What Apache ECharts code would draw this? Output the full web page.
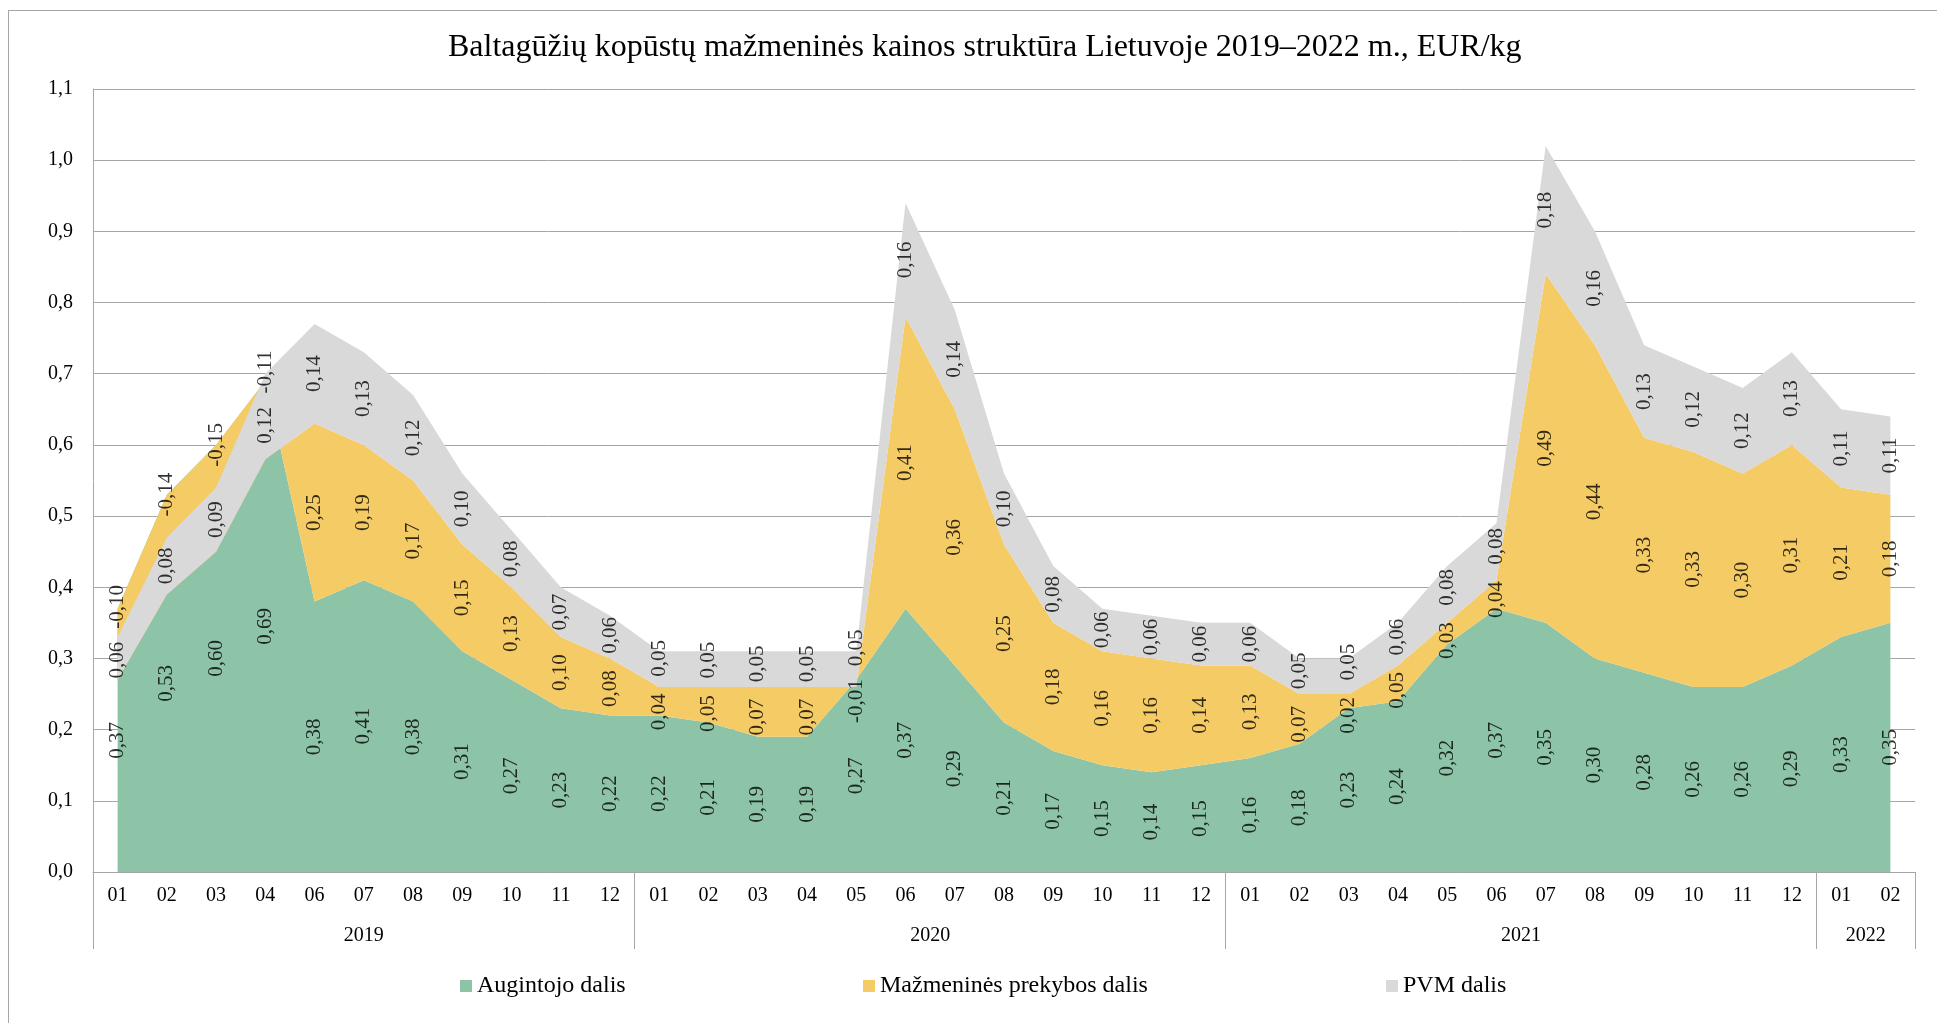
<!DOCTYPE html>
<html>
<head>
<meta charset="utf-8">
<title>Baltagūžių kopūstų mažmeninės kainos struktūra</title>
<script src="https://cdn.jsdelivr.net/npm/echarts@6/dist/echarts.min.js"></script>
<style>
    html, body { margin: 0; padding: 0; background: #fff; overflow: hidden; }
    #frame { position: absolute; left: 8px; top: 10px; width: 1940px; height: 1020px; border: 1px solid #a6a6a6; }
    #chart { position: absolute; left: 0; top: 0; width: 1937px; height: 1023px; }
</style>
</head>
<body>
<div id="frame"></div>
<div id="chart"></div>
<script>
// laikotarpiai (metai-mėnuo), 2019-05 duomenų nėra
const periods = [
    '2019-01', '2019-02', '2019-03', '2019-04', '2019-06', '2019-07', '2019-08', '2019-09', '2019-10', '2019-11', '2019-12',
    '2020-01', '2020-02', '2020-03', '2020-04', '2020-05', '2020-06', '2020-07', '2020-08', '2020-09', '2020-10', '2020-11', '2020-12',
    '2021-01', '2021-02', '2021-03', '2021-04', '2021-05', '2021-06', '2021-07', '2021-08', '2021-09', '2021-10', '2021-11', '2021-12',
    '2022-01', '2022-02'
];

const seriesNames = ['Augintojo dalis', 'Mažmeninės prekybos dalis', 'PVM dalis'];

const growerShare = [
    0.37, 0.53, 0.60, 0.69, 0.38, 0.41, 0.38, 0.31, 0.27, 0.23, 0.22,
    0.22, 0.21, 0.19, 0.19, 0.27, 0.37, 0.29, 0.21, 0.17, 0.15, 0.14, 0.15,
    0.16, 0.18, 0.23, 0.24, 0.32, 0.37, 0.35, 0.30, 0.28, 0.26, 0.26, 0.29,
    0.33, 0.35
];
const retailShare = [
    -0.10, -0.14, -0.15, -0.11, 0.25, 0.19, 0.17, 0.15, 0.13, 0.10, 0.08,
    0.04, 0.05, 0.07, 0.07, -0.01, 0.41, 0.36, 0.25, 0.18, 0.16, 0.16, 0.14,
    0.13, 0.07, 0.02, 0.05, 0.03, 0.04, 0.49, 0.44, 0.33, 0.33, 0.30, 0.31,
    0.21, 0.18
];
const vatShare = [
    0.06, 0.08, 0.09, 0.12, 0.14, 0.13, 0.12, 0.10, 0.08, 0.07, 0.06,
    0.05, 0.05, 0.05, 0.05, 0.05, 0.16, 0.14, 0.10, 0.08, 0.06, 0.06, 0.06,
    0.06, 0.05, 0.05, 0.06, 0.08, 0.08, 0.18, 0.16, 0.13, 0.12, 0.12, 0.13,
    0.11, 0.11
];

const yMax = 1.1;
const yStep = 0.1;

const colors = ['#8dc3a7', '#f5cb65', '#d9d9d9'];
const FONT = '"Liberation Serif", "Times New Roman", serif';

const fmt = (v, d) => v.toFixed(d).replace('.', ',');

// mėnesiai ir metų grupės
const months = periods.map(p => p.slice(5));
const n = periods.length;
const yearStarts = [];
const yearNames = [];
periods.forEach((p, i) => {
    const y = p.slice(0, 4);
    if (i === 0 || y !== periods[i - 1].slice(0, 4)) {
        yearStarts.push(i);
        yearNames.push(y);
    }
});
const yearBounds = yearStarts.concat([n]);
const yearCenters = {};
yearNames.forEach((y, k) => {
    yearCenters[(yearBounds[k] + yearBounds[k + 1]) / 2] = y;
});

// etikečių vietos: kiekvienos juostos vidurys
const cumRetail = growerShare.map((g, i) => g + retailShare[i]);
const posGrower = growerShare.map(v => v / 2);
const posRetail = retailShare.map((v, i) => v >= 0 ? growerShare[i] + v / 2 : growerShare[i]);
const posVat = vatShare.map((v, i) => cumRetail[i] + v / 2);
// kad etiketės nesusiliptų
const minGap = 0.075;
for (let i = 0; i < n; i++) {
    const d = posRetail[i] - posVat[i];
    if (Math.abs(d) < minGap) {
        const mid = (posRetail[i] + posVat[i]) / 2;
        const s = d >= 0 ? 1 : -1;
        posRetail[i] = mid + s * minGap / 2;
        posVat[i] = mid - s * minGap / 2;
    }
}

function areaSeries(name, data, color) {
    return {
        name: name,
        type: 'line',
        stack: 'total',
        stackStrategy: 'all',
        data: data,
        symbol: 'none',
        color: color,
        lineStyle: { width: 0 },
        areaStyle: { color: color, opacity: 1 }
    };
}

function labelSeries(name, pos, raw) {
    return {
        name: name,
        type: 'scatter',
        data: pos.map((p, i) => ({ value: [i, p], raw: raw[i] })),
        symbolSize: 1,
        itemStyle: { color: 'rgba(0,0,0,0)' },
        z: 5,
        silent: true,
        label: {
            show: true,
            position: 'inside',
            rotate: 90,
            fontFamily: FONT,
            fontSize: 21,
            color: '#000',
            formatter: p => fmt(p.data.raw, 2)
        }
    };
}

const legendBase = {
    top: 974,
    padding: 0,
    icon: 'rect',
    itemWidth: 12,
    itemHeight: 12,
    itemGap: 0,
    selectedMode: false,
    textStyle: { fontFamily: FONT, fontSize: 24, color: '#000' }
};

const chart = echarts.init(document.getElementById('chart'));
chart.setOption({
    animation: false,
    backgroundColor: 'transparent',
    title: {
        text: 'Baltagūžių kopūstų mažmeninės kainos struktūra Lietuvoje 2019–2022 m., EUR/kg',
        left: 448,
        top: 32,
        padding: 0,
        textStyle: { fontFamily: FONT, fontSize: 32, fontWeight: 'normal', color: '#000' }
    },
    legend: [
        Object.assign({}, legendBase, { data: [seriesNames[0]], left: 460 }),
        Object.assign({}, legendBase, { data: [seriesNames[1]], left: 863 }),
        Object.assign({}, legendBase, { data: [seriesNames[2]], left: 1386 })
    ],
    grid: { left: 93, right: 22, top: 89, bottom: 151 },
    xAxis: [
        {
            type: 'category',
            data: months,
            boundaryGap: true,
            axisLine: { lineStyle: { color: '#a6a6a6', width: 1 } },
            axisTick: { show: false },
            axisLabel: { interval: 0, margin: 14, fontFamily: FONT, fontSize: 20, color: '#000' }
        },
        {
            type: 'value',
            min: 0,
            max: n,
            position: 'bottom',
            axisLine: { show: false },
            splitLine: { show: false },
            axisTick: {
                show: true,
                customValues: yearBounds,
                length: 77,
                lineStyle: { color: '#a6a6a6', width: 1 }
            },
            axisLabel: {
                customValues: Object.keys(yearCenters).map(Number),
                margin: 54,
                fontFamily: FONT,
                fontSize: 20,
                color: '#000',
                formatter: v => yearCenters[v] || ''
            }
        }
    ],
    yAxis: {
        type: 'value',
        min: 0,
        max: yMax,
        interval: yStep,
        axisLine: { show: true, lineStyle: { color: '#a6a6a6', width: 1 } },
        axisTick: { show: false },
        splitLine: { lineStyle: { color: '#a6a6a6', width: 1 } },
        axisLabel: { margin: 20, fontFamily: FONT, fontSize: 20, color: '#000', formatter: v => fmt(v, 1) }
    },
    series: [
        areaSeries(seriesNames[0], growerShare, colors[0]),
        areaSeries(seriesNames[1], retailShare, colors[1]),
        areaSeries(seriesNames[2], vatShare, colors[2]),
        labelSeries('lbl0', posGrower, growerShare),
        labelSeries('lbl1', posRetail, retailShare),
        labelSeries('lbl2', posVat, vatShare)
    ]
});
</script>
</body>
</html>
